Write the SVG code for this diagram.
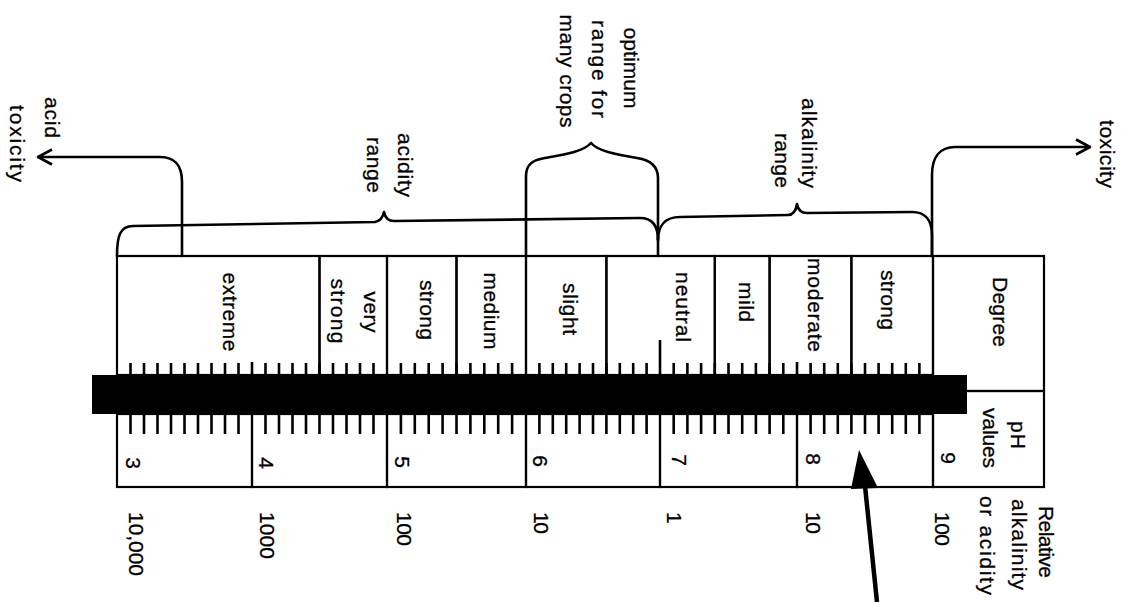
<svg xmlns="http://www.w3.org/2000/svg" width="1124" height="602" viewBox="0 0 1124 602">
<defs>
<style>
.ln{fill:none;stroke:#000;stroke-width:2.2}
.br{fill:none;stroke:#000;stroke-width:2.6;stroke-linecap:round;stroke-linejoin:round}
.tk{fill:none;stroke:#000;stroke-width:2.6}
.t{font-family:"Liberation Sans",Arial,sans-serif;font-size:21px;fill:#000;stroke:#000;stroke-width:0.3;dominant-baseline:middle}
.n{font-family:"Liberation Sans",Arial,sans-serif;font-size:21px;fill:#000;stroke:#000;stroke-width:0.3;dominant-baseline:central}
</style>
<marker id="open" viewBox="0 0 16 18" refX="15" refY="9" markerWidth="16" markerHeight="18" markerUnits="userSpaceOnUse" orient="auto"><path d="M1,1.5 L15,9 L1,16.5" fill="none" stroke="#000" stroke-width="2.6"/></marker>
</defs>
<rect width="1124" height="602" fill="#fff"/>

<!-- upper row: degree cells -->
<g id="cell-extreme"><rect class="ln" x="117" y="256" width="202.5" height="119"/><text class="t" text-anchor="middle" transform="translate(229,312) rotate(90)" textLength="79" lengthAdjust="spacing">extreme</text></g>
<g id="cell-very-strong"><rect class="ln" x="319.5" y="256" width="67.5" height="119"/><text class="t" text-anchor="middle" transform="translate(370,312) rotate(90)" textLength="41" lengthAdjust="spacing">very</text><text class="t" text-anchor="middle" transform="translate(336.5,311) rotate(90)" textLength="65" lengthAdjust="spacing">strong</text></g>
<g id="cell-strong-acid"><rect class="ln" x="387" y="256" width="69.5" height="119"/><text class="t" text-anchor="middle" transform="translate(425.5,310) rotate(90)" textLength="60" lengthAdjust="spacing">strong</text></g>
<g id="cell-medium"><rect class="ln" x="456.5" y="256" width="69.5" height="119"/><text class="t" text-anchor="middle" transform="translate(489.5,311) rotate(90)" textLength="77" lengthAdjust="spacing">medium</text></g>
<g id="cell-slight"><rect class="ln" x="526" y="256" width="80.4" height="119"/><text class="t" text-anchor="middle" transform="translate(569,309) rotate(90)" textLength="52" lengthAdjust="spacing">slight</text></g>
<g id="cell-neutral"><rect class="ln" x="606.4" y="256" width="108.4" height="119"/><path class="tk" d="M660,340 V375"/><text class="t" text-anchor="middle" transform="translate(682,307) rotate(90)" textLength="70" lengthAdjust="spacing">neutral</text></g>
<g id="cell-mild"><rect class="ln" x="714.8" y="256" width="54.8" height="119"/><text class="t" text-anchor="middle" transform="translate(745,302) rotate(90)" textLength="40" lengthAdjust="spacing">mild</text></g>
<g id="cell-moderate"><rect class="ln" x="769.6" y="256" width="81.8" height="119"/><text class="t" text-anchor="middle" transform="translate(814,305) rotate(90)" textLength="94" lengthAdjust="spacing">moderate</text></g>
<g id="cell-strong-alk"><rect class="ln" x="851.4" y="256" width="81.6" height="119"/><text class="t" text-anchor="middle" transform="translate(887,300) rotate(90)" textLength="60" lengthAdjust="spacing">strong</text></g>
<g id="cell-degree"><rect class="ln" x="933" y="256" width="111" height="135"/><text class="t" text-anchor="middle" transform="translate(999,312) rotate(90)" textLength="70" lengthAdjust="spacing">Degree</text></g>

<!-- lower row: pH cells -->
<g id="ph-3"><rect class="ln" x="117" y="414" width="135" height="73"/><text class="n" text-anchor="middle" transform="translate(133,463) rotate(90)">3</text></g>
<g id="ph-4"><rect class="ln" x="252" y="414" width="135" height="73"/><text class="n" text-anchor="middle" transform="translate(266,463) rotate(90)">4</text></g>
<g id="ph-5"><rect class="ln" x="387" y="414" width="139" height="73"/><text class="n" text-anchor="middle" transform="translate(402,462) rotate(90)">5</text></g>
<g id="ph-6"><rect class="ln" x="526" y="414" width="134" height="73"/><text class="n" text-anchor="middle" transform="translate(540,461) rotate(90)">6</text></g>
<g id="ph-7"><rect class="ln" x="660" y="414" width="137" height="73"/><text class="n" text-anchor="middle" transform="translate(679,460) rotate(90)">7</text></g>
<g id="ph-8"><rect class="ln" x="797" y="414" width="136" height="73"/><text class="n" text-anchor="middle" transform="translate(813,459) rotate(90)">8</text></g>
<g id="ph-values"><rect class="ln" x="933" y="391" width="111" height="96"/><text class="n" text-anchor="middle" transform="translate(948,458) rotate(90)">9</text><text class="t" text-anchor="middle" transform="translate(1017,435) rotate(90)" textLength="28" lengthAdjust="spacing">pH</text><text class="t" text-anchor="middle" transform="translate(989,438) rotate(90)" textLength="60" lengthAdjust="spacing">values</text></g>

<!-- tick marks and scale bar -->
<g id="scale">
<path class="tk" d="M130.5,363V434M144,363V434M157.5,363V434M171,363V434M184.5,363V434M198,363V434M211.5,363V434M225,363V434M238.5,363V434
M265.5,363V434M279,363V434M292.5,363V434M306,363V434M319.5,363V434M333,363V434M346.5,363V434M360,363V434M373.5,363V434
M400.9,363V434M414.8,363V434M428.7,363V434M442.6,363V434M456.5,363V434M470.4,363V434M484.3,363V434M498.2,363V434M512.1,363V434
M539.4,363V434M552.8,363V434M566.2,363V434M579.6,363V434M593,363V434M606.4,363V434M619.8,363V434M633.2,363V434M646.6,363V434
M673.7,363V434M687.4,363V434M701.1,363V434M714.8,363V434M728.5,363V434M742.2,363V434M755.9,363V434M769.6,363V434M783.3,363V434
M810.6,363V434M824.2,363V434M837.8,363V434M851.4,363V434M865,363V434M878.6,363V434M892.2,363V434M905.8,363V434M919.4,363V434
M252,362V414M797,362V414M660,375V414"/>
<rect x="92" y="375" width="875" height="39" fill="#000"/>
</g>

<!-- relative alkalinity / acidity values -->
<g id="rel-10000"><text class="n" transform="translate(136,512) rotate(90)" textLength="64" lengthAdjust="spacing">10,000</text></g>
<g id="rel-1000-acid"><text class="n" transform="translate(267,512) rotate(90)" textLength="47" lengthAdjust="spacing">1000</text></g>
<g id="rel-100-acid"><text class="n" transform="translate(404,512) rotate(90)" textLength="34" lengthAdjust="spacing">100</text></g>
<g id="rel-10-acid"><text class="n" transform="translate(541,512) rotate(90)" textLength="22" lengthAdjust="spacing">10</text></g>
<g id="rel-1"><text class="n" transform="translate(674,512) rotate(90)">1</text></g>
<g id="rel-10-alk"><text class="n" transform="translate(813,512) rotate(90)" textLength="22" lengthAdjust="spacing">10</text></g>
<g id="rel-100-alk"><text class="n" transform="translate(942,512) rotate(90)" textLength="34" lengthAdjust="spacing">100</text></g>
<g id="label-relative"><text class="t" transform="translate(1045,506) rotate(90)" textLength="72" lengthAdjust="spacing">Relative</text><text class="t" transform="translate(1018,499) rotate(90)" textLength="91" lengthAdjust="spacing">alkalinity</text><text class="t" transform="translate(986,496) rotate(90)" textLength="99" lengthAdjust="spacing">or acidity</text></g>

<!-- annotations -->
<g id="label-acid-toxicity"><text class="t" transform="translate(50.5,97) rotate(90)" textLength="41" lengthAdjust="spacing">acid</text><text class="t" transform="translate(15.5,105) rotate(90)" textLength="77" lengthAdjust="spacing">toxicity</text></g>
<g id="label-acidity-range"><text class="t" text-anchor="middle" transform="translate(404,165) rotate(90)" textLength="64" lengthAdjust="spacing">acidity</text><text class="t" text-anchor="middle" transform="translate(372.5,165) rotate(90)" textLength="56" lengthAdjust="spacing">range</text></g>
<g id="label-optimum"><text class="t" text-anchor="middle" transform="translate(630,68) rotate(90)" textLength="81" lengthAdjust="spacing">optimum</text><text class="t" text-anchor="middle" transform="translate(598,69) rotate(90)" textLength="98" lengthAdjust="spacing">range for</text><text class="t" text-anchor="middle" transform="translate(566,71) rotate(90)" textLength="113" lengthAdjust="spacing">many crops</text></g>
<g id="label-alkalinity-range"><text class="t" transform="translate(808,98) rotate(90)" textLength="90" lengthAdjust="spacing">alkalinity</text><text class="t" transform="translate(781,133) rotate(90)" textLength="55" lengthAdjust="spacing">range</text></g>
<g id="label-toxicity"><text class="t" transform="translate(1106,120) rotate(90)" textLength="68" lengthAdjust="spacing">toxicity</text></g>

<!-- connectors -->
<g id="connectors">
<path class="br" d="M182,256 V182 C182,165 175,157 160,157 H38" marker-end="url(#open)"/>
<path class="br" d="M117,256 C117,236 120,226 133,226 L375,222 C380,221 383,217 384,212 C385,217 388,221 394,221 L640,218 C652,218 658,226 658,240 V256"/>
<path class="br" d="M658,240 C658,226 665,217 680,217 L788,215 C793,215 796,210 797,204 C798,210 801,213 807,213 L912,212 C925,212 932,220 932,235 V256"/>
<path class="br" d="M932,256 V175 C932,157 940,147 955,147 H1090" marker-end="url(#open)"/>
<path class="br" d="M526,256 V176 C526,165 532,160 545,158 C568,154 584,151 591,143 C598,151 614,154 637,158 C650,160 658,166 658,178 V240"/>
<path d="M877,602 L865,486" fill="none" stroke="#000" stroke-width="4.5"/>
<polygon points="859,450 851,489 878,488" fill="#000"/>
</g>
</svg>
